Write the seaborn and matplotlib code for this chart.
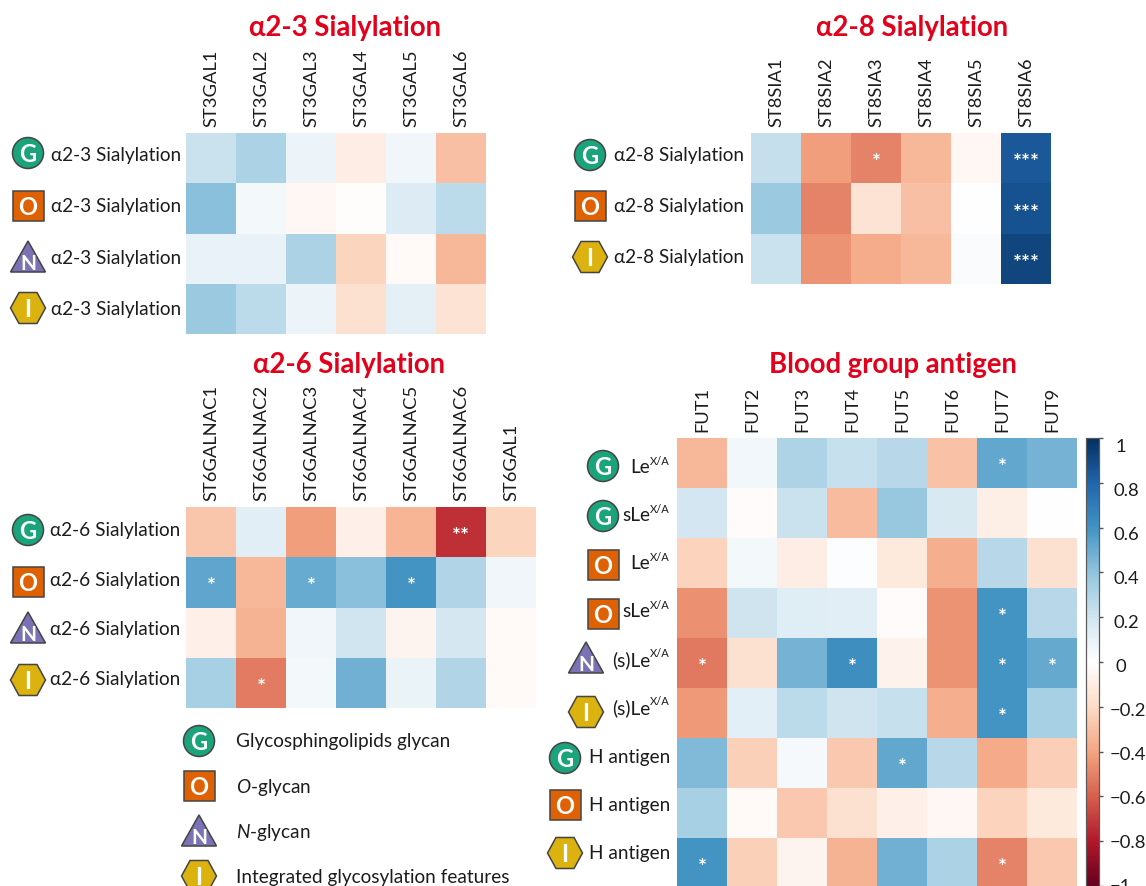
import numpy as np
import pandas as pd
import seaborn as sns
import matplotlib.pyplot as plt
from matplotlib.patches import Circle, Rectangle, Polygon

W, H = 1146, 887

# gene names
genes_a = ['ST3GAL1', 'ST3GAL2', 'ST3GAL3', 'ST3GAL4', 'ST3GAL5', 'ST3GAL6']
genes_b = ['ST8SIA1', 'ST8SIA2', 'ST8SIA3', 'ST8SIA4', 'ST8SIA5', 'ST8SIA6']
genes_c = ['ST6GALNAC1', 'ST6GALNAC2', 'ST6GALNAC3', 'ST6GALNAC4', 'ST6GALNAC5', 'ST6GALNAC6', 'ST6GAL1']
genes_d = ['FUT1', 'FUT2', 'FUT3', 'FUT4', 'FUT5', 'FUT6', 'FUT7', 'FUT9']

# correlations
vals_a = [[0.22, 0.32, 0.08, -0.10, 0.07, -0.30],
          [0.42, 0.05, -0.04, -0.01, 0.15, 0.27],
          [0.10, 0.10, 0.32, -0.22, -0.03, -0.33],
          [0.37, 0.27, 0.08, -0.17, 0.11, -0.15]]
vals_b = [[0.24, -0.42, -0.50, -0.33, -0.04, 0.85],
          [0.37, -0.50, -0.15, -0.30, 0.00, 0.87],
          [0.22, -0.45, -0.37, -0.33, 0.03, 0.92]]
vals_c = [[-0.28, 0.13, -0.42, -0.08, -0.34, -0.73, -0.22],
          [0.53, -0.33, 0.50, 0.42, 0.60, 0.30, 0.07],
          [-0.08, -0.35, 0.07, 0.20, -0.06, 0.18, -0.03],
          [0.33, -0.52, 0.05, 0.48, 0.09, 0.30, -0.03]]
vals_d = [[-0.33, 0.06, 0.31, 0.23, 0.28, -0.29, 0.52, 0.47],
          [0.19, -0.02, 0.22, -0.32, 0.38, 0.17, -0.09, 0.00],
          [-0.23, 0.05, -0.10, 0.01, -0.12, -0.36, 0.28, -0.17],
          [-0.46, 0.21, 0.14, 0.13, -0.02, -0.45, 0.60, 0.28],
          [-0.53, -0.17, 0.47, 0.62, -0.07, -0.45, 0.60, 0.51],
          [-0.43, 0.12, 0.27, 0.21, 0.23, -0.36, 0.60, 0.33],
          [0.44, -0.24, 0.04, -0.27, 0.52, 0.28, -0.38, -0.25],
          [0.33, -0.03, -0.27, -0.17, -0.08, -0.04, -0.23, -0.12],
          [0.60, -0.24, -0.06, -0.35, 0.48, 0.32, -0.50, -0.27]]

# significance marks
stars_a = [['']*6]*4
stars_b = [['', '', '*', '', '', '***'],
           ['', '', '', '', '', '***'],
           ['', '', '', '', '', '***']]
stars_c = [['', '', '', '', '', '**', ''],
           ['*', '', '*', '', '*', '', ''],
           ['']*7,
           ['', '*', '', '', '', '', '']]
stars_d = [['', '', '', '', '', '', '*', ''],
           ['']*8,
           ['']*8,
           ['', '', '', '', '', '', '*', ''],
           ['*', '', '', '*', '', '', '*', '*'],
           ['', '', '', '', '', '', '*', ''],
           ['', '', '', '', '*', '', '', ''],
           ['']*8,
           ['*', '', '', '', '', '', '*', '']]

sia_3 = 'α2-3 Sialylation'
sia_8 = 'α2-8 Sialylation'
sia_6 = 'α2-6 Sialylation'
le = 'Le^X/A'
sle = 'sLe^X/A'
sle2 = '(s)Le^X/A'
hag = 'H antigen'
cbar_ticks = [1, 0.8, 0.6, 0.4, 0.2, 0, -0.2, -0.4, -0.6, -0.8, -1]
cbar_names = ['1', '0.8', '0.6', '0.4', '0.2', '0', '−0.2', '−0.4', '−0.6', '−0.8', '−1']
# same stops as RdBu but with a pure white middle
cmap_cols = ['#67001F', '#B2182B', '#D6604D', '#F4A582', '#FDDBC7', '#FFFFFF',
             '#D1E5F0', '#92C5DE', '#4393C3', '#2166AC', '#053061']

sns.set_theme(style='white')
plt.rcParams['font.family'] = ['Lato', 'DejaVu Sans']
plt.rcParams['mathtext.fontset'] = 'custom'
plt.rcParams['mathtext.rm'] = 'Lato'
plt.rcParams['mathtext.it'] = 'Lato:italic'
plt.rcParams['mathtext.default'] = 'regular'
dark = '#1c1c1c'
red = '#e2001a'
lab_size = 13.2
row_size = 13.7
cmap = sns.blend_palette(cmap_cols, n_colors=200, as_cmap=True)

fig = plt.figure(figsize=(W/100, H/100), dpi=100)


def px_axes(x0, y0, x1, y1):
    return fig.add_axes([x0/W, 1 - y1/H, (x1 - x0)/W, (y1 - y0)/H])


def draw_heat(box, vals, stars, genes, cax=None):
    ax = px_axes(*box)
    df = pd.DataFrame(vals, columns=genes)
    sns.heatmap(df, ax=ax, cmap=cmap, vmin=-1, vmax=1, linewidths=0,
                annot=np.array(stars), fmt='', annot_kws={'color': 'white', 'fontsize': 15, 'fontweight': 'bold'},
                cbar=cax is not None, cbar_ax=cax, yticklabels=False)
    # the asterisk sits high in its glyph box
    for t in ax.texts:
        tx, ty = t.get_position()
        t.set_position((tx, ty + 0.08))
    ax.xaxis.tick_top()
    ax.tick_params(axis='x', length=0, pad=5, labelsize=lab_size, labelcolor=dark, rotation=90)
    return ax


draw_heat((186, 134, 486, 335), vals_a, stars_a, genes_a)
draw_heat((751, 134, 1051, 285), vals_b, stars_b, genes_b)
draw_heat((186, 508, 536, 709), vals_c, stars_c, genes_c)

cax = px_axes(1086, 439, 1099, 887)
draw_heat((677, 439, 1077, 889), vals_d, stars_d, genes_d, cax=cax)
cax.set_yticks(cbar_ticks)
cax.tick_params(axis='y', right=True, length=3, width=1, color='#555555', labelright=False)
for sp in cax.spines.values():
    sp.set_visible(True)
    sp.set_color('#5a5a5a')
    sp.set_linewidth(0.8)
# corrplot packs the labels a bit tighter than its ticks
for name, v in zip(cbar_names, cbar_ticks):
    off = 11 if name.startswith('−') else (17 if name in ('1', '0') else 14)
    cax.annotate(name, (1, v), xycoords=('axes fraction', 'data'), xytext=(off, -(4 + 4*v)),
                 textcoords='offset pixels', ha='left', va='center', fontsize=13.3, color=dark,
                 annotation_clip=False)

# overlay in pixel coordinates for badges, row names and titles
over = fig.add_axes([0, 0, 1, 1], zorder=5)
over.set_xlim(0, W)
over.set_ylim(H, 0)
over.axis('off')

badge_col = {'G': '#1ba37b', 'O': '#de6204', 'N': '#7a72b5', 'I': '#dcb20e'}
edge = '#444444'


def badge(x, y, k):
    if k == 'G':
        p = Circle((x, y), 15.5)
    elif k == 'O':
        p = Rectangle((x - 15.5, y - 15), 31, 30)
    elif k == 'N':
        p = Polygon([(x, y - 16), (x + 17.5, y + 15), (x - 17.5, y + 15)])
    else:
        p = Polygon([(x - 17.5, y), (x - 9, y - 15.5), (x + 9, y - 15.5), (x + 17.5, y),
                     (x + 9, y + 15.5), (x - 9, y + 15.5)])
    p.set(facecolor=badge_col[k], edgecolor=edge, linewidth=1.1)
    over.add_patch(p)
    dy = 6 if k == 'N' else 1
    fs = 15 if k == 'N' else 17
    over.text(x, y + dy, k, color='white', fontsize=fs, fontweight='bold', ha='center', va='center')


def row_names(x_right, rows):
    for bx, by, k, name, ty in rows:
        badge(bx, by, k)
        if '^' in name:
            base, sup = name.split('^')
            over.text(x_right, ty - 5, sup, ha='right', va='center', fontsize=8, color=dark)
            over.text(x_right - 20, ty + 1, base, ha='right', va='center', fontsize=row_size, color=dark)
        else:
            over.text(x_right, ty + 1, name, ha='right', va='center', fontsize=row_size, color=dark)


row_names(181, [(28, 154, 'G', sia_3, 155), (28, 207, 'O', sia_3, 206),
                (28, 258, 'N', sia_3, 258), (28, 309, 'I', sia_3, 309)])
row_names(744, [(590, 156, 'G', sia_8, 155), (590, 207, 'O', sia_8, 206), (590, 258, 'I', sia_8, 257)])
row_names(180, [(28, 531, 'G', sia_6, 530), (28, 583, 'O', sia_6, 580),
                (28, 629, 'N', sia_6, 629), (28, 681, 'I', sia_6, 679)])
row_names(670, [(603, 467, 'G', le, 467), (603, 517, 'G', sle, 515), (603, 566, 'O', le, 563),
                (603, 615, 'O', sle, 611), (586, 659, 'N', sle2, 659), (586, 713, 'I', sle2, 707),
                (565, 759, 'G', hag, 757), (565, 806, 'O', hag, 805), (565, 854, 'I', hag, 853)])

# legend
leg_rows = [('G', 742, 'Glycosphingolipids glycan', 741), ('O', 787, '$\\mathit{O}$-glycan', 787),
            ('N', 832, '$\\mathit{N}$-glycan', 832), ('I', 877, 'Integrated glycosylation features', 877)]
for k, by, name, ty in leg_rows:
    badge(199, by, k)
    over.text(236, ty + 1, name, ha='left', va='center', fontsize=row_size, color=dark)

for x, y, t in [(345, 28, sia_3), (912, 28, sia_8), (349, 365, sia_6), (893, 365, 'Blood group antigen')]:
    over.text(x, y, t, ha='center', va='center', color=red, fontsize=19.8, fontweight='bold')

plt.savefig('out.png', dpi=100)
